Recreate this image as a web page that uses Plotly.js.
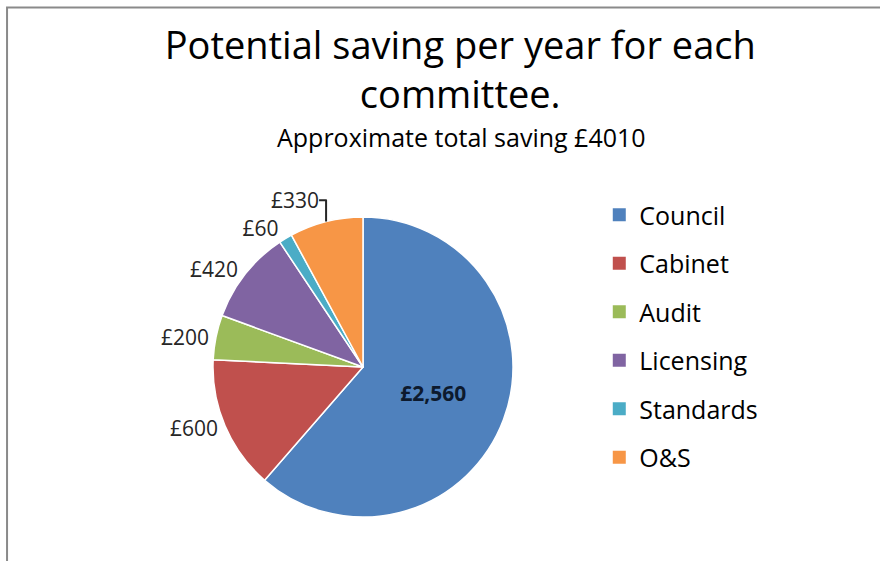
<!DOCTYPE html>
<html>
<head>
<meta charset="utf-8">
<script src="https://cdn.plot.ly/plotly-3.0.1.min.js"></script>
<style>
  html, body { margin: 0; padding: 0; background: #fff; overflow: hidden; width: 880px; height: 561px; }
  ::-webkit-scrollbar { display: none; width: 0; height: 0; }
  html { scrollbar-width: none; }
  #chart { width: 880px; height: 561px; }
</style>
</head>
<body>
<div id="chart"></div>
<script>
const committees = ["Council", "Cabinet", "Audit", "Licensing", "Standards", "O&S"];
const savings = [2560, 600, 200, 420, 60, 330];
const sliceColors = ["#4F81BD", "#C0504D", "#9BBB59", "#8064A2", "#4BACC6", "#F79646"];
const titleText = "Potential saving per year for each<br>committee.";
const subtitleText = "Approximate total saving £4010";

const FONT = "'Open Sans', Lato, sans-serif";

const pie = {
  type: "pie",
  labels: committees,
  values: savings,
  sort: false,
  direction: "clockwise",
  rotation: 0,
  showlegend: false,
  marker: { colors: sliceColors, line: { color: "#ffffff", width: 1.5 } },
  texttemplate: committees.map((c, i) => i === 0 ? "<b>£%{value:,}</b>" : "£%{value:,}"),
  textposition: committees.map((c, i) => i === 0 ? "inside" : "outside"),
  insidetextorientation: "horizontal",
  textfont: { family: FONT, size: 21, color: "#262626" },
  insidetextfont: { family: FONT, size: 21, color: "#0d1a2e" },
  outsidetextfont: { family: FONT, size: 21, color: "#262626" },
  hoverinfo: "none",
  automargin: false,
  domain: { x: [0.2409, 0.5841], y: [0.0784, 0.6132] }
};

// legend entries, one per committee (they draw no data)
const legendEntries = committees.map((c, i) => ({
  type: "scatter",
  mode: "markers",
  x: [null],
  y: [null],
  name: c,
  legendgroup: c,
  showlegend: true,
  hoverinfo: "none",
  marker: { symbol: "square", size: 13, color: sliceColors[i] }
}));

const layout = {
  width: 880,
  height: 561,
  margin: { l: 0, r: 0, t: 0, b: 0 },
  paper_bgcolor: "#ffffff",
  plot_bgcolor: "rgba(0,0,0,0)",
  xaxis: { visible: false, showgrid: false, zeroline: false, showline: false, domain: [0, 0.01] },
  yaxis: { visible: false, showgrid: false, zeroline: false, showline: false, domain: [0, 0.01] },
  showlegend: true,
  title: {
    text: titleText,
    x: 0.523,
    xanchor: "center",
    y: 0.895,
    yanchor: "middle",
    font: { family: FONT, size: 38, color: "#000000" }
  },
  annotations: [{
    text: subtitleText,
    xref: "paper", yref: "paper",
    x: 0.524, y: 1 - 137 / 561,
    xanchor: "center", yanchor: "middle",
    showarrow: false,
    font: { family: FONT, size: 25, color: "#000000" }
  }],
  shapes: [{
    type: "path",
    xref: "paper", yref: "paper",
    path: "M 0.0080 0 L 0.0080 0.9866 L 1 0.9866",
    line: { color: "#8a8a8a", width: 2 }
  }],
  legend: {
    x: 0.681,
    xanchor: "left",
    y: 1 - 192 / 561,
    yanchor: "top",
    tracegroupgap: 13,
    itemwidth: 30,
    font: { family: FONT, size: 25, color: "#000000" }
  }
};

Plotly.newPlot("chart", [pie, ...legendEntries], layout, { staticPlot: true });
</script>
</body>
</html>
